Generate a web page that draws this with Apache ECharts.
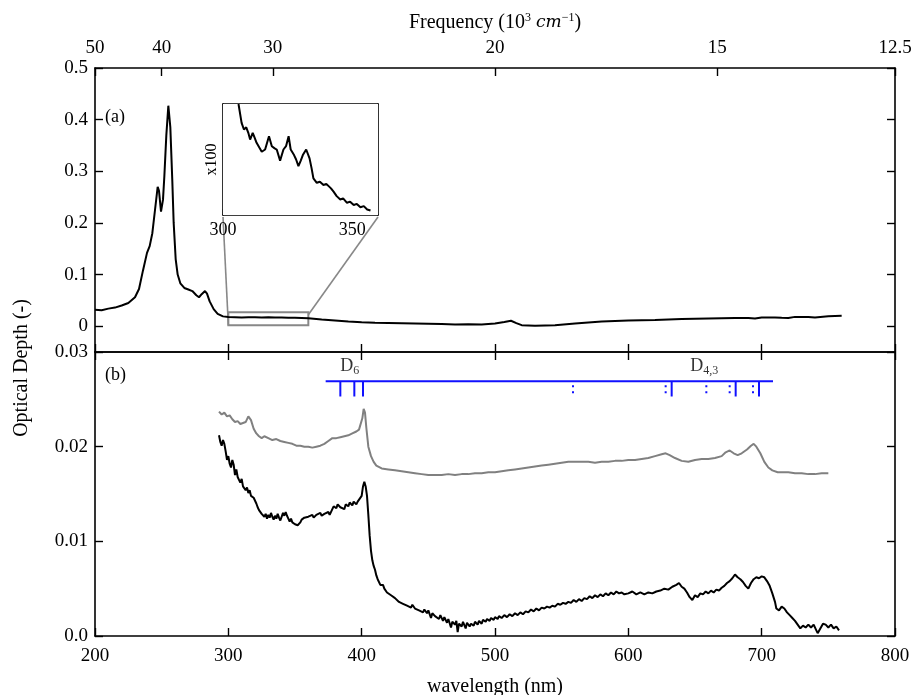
<!DOCTYPE html>
<html>
<head>
<meta charset="utf-8">
<script src="https://cdn.jsdelivr.net/npm/echarts@6/dist/echarts.min.js"></script>
<style>
  html, body { margin: 0; padding: 0; background: #fff; }
  #main { width: 911px; height: 695px; }
</style>
</head>
<body>
<div id="main"></div>
<script>
var FONT = 'Liberation Serif';

// panel (a): full spectrum
var aWave = [200, 205, 210, 215, 220, 225, 230, 233, 236, 239, 241, 243, 245, 247, 248, 249.5, 251, 252, 253.5, 255,
  256.5, 258, 259, 260.5, 262, 264, 267, 270, 273, 276, 278, 280, 282.5, 284, 286, 289, 292, 296, 300, 305,
  310, 315, 320, 325, 330, 335, 340, 345, 350, 355, 360, 370, 380, 390, 400, 410, 420, 430, 440, 450,
  460, 470, 480, 490, 500, 507, 512, 516, 520, 530, 545, 560, 580, 600, 620, 640, 660, 670, 680, 690,
  695, 700, 710, 715, 720, 725, 735, 740, 750, 760];
var aDepth = [0.032, 0.031, 0.034, 0.036, 0.040, 0.045, 0.056, 0.072, 0.108, 0.142, 0.155, 0.180, 0.225, 0.270, 0.262, 0.222, 0.245, 0.290, 0.370, 0.427,
  0.385, 0.280, 0.200, 0.130, 0.100, 0.083, 0.074, 0.071, 0.068, 0.060, 0.056, 0.062, 0.068, 0.063, 0.048, 0.033, 0.024, 0.019, 0.018, 0.0175,
  0.017, 0.0175, 0.0172, 0.0168, 0.0172, 0.0168, 0.017, 0.0165, 0.0162, 0.0158, 0.0152, 0.013, 0.011, 0.009, 0.0075, 0.0065, 0.006, 0.0055, 0.005, 0.0045,
  0.004, 0.0032, 0.0038, 0.0033, 0.005, 0.008, 0.0105, 0.006, 0.002, 0.001, 0.002, 0.005, 0.009, 0.011, 0.012, 0.014, 0.015, 0.0155, 0.016, 0.016,
  0.0148, 0.017, 0.017, 0.0162, 0.0158, 0.018, 0.018, 0.0168, 0.019, 0.020];

// inset (x100), relative units across the inset box
var insetWave = [306, 307.2, 308.1, 309, 309.8, 310.5, 311.5, 312.2, 313, 314, 315, 316.3, 317.8, 318.9, 320, 320.8, 322.1, 323.4, 324.4, 325.4,
  326.2, 327.5, 328.3, 329.2, 330.1, 330.9, 332.2, 333.5, 334.3, 335, 336.3, 337.5, 338.9, 340, 340.9, 341.8, 342.8, 344, 345.4, 346.5,
  348, 349.2, 350.6, 351.8, 353.2, 354.5, 355.8, 357.1];
var insetVal = [1.0, 0.83, 0.77, 0.79, 0.74, 0.68, 0.74, 0.70, 0.65, 0.61, 0.57, 0.59, 0.71, 0.62, 0.60, 0.59, 0.49, 0.59, 0.62, 0.71,
  0.59, 0.54, 0.50, 0.44, 0.49, 0.54, 0.59, 0.51, 0.42, 0.33, 0.29, 0.30, 0.27, 0.28, 0.26, 0.24, 0.21, 0.17, 0.14, 0.15,
  0.11, 0.12, 0.09, 0.10, 0.07, 0.08, 0.05, 0.04];

// panel (b): grey and black spectra
var greyWave = [293, 295, 297, 299, 301, 303, 305, 307, 309, 311, 313, 315, 316, 317, 319, 321, 323, 325, 327, 330,
  333, 336, 339, 342, 345, 348, 351, 354, 357, 360, 363, 366, 369, 372, 375, 378, 381, 384, 387, 390,
  393, 396, 398, 399.5, 400.5, 401.5, 402.5, 403.5, 405, 407, 409, 411, 415, 420, 425, 430, 435, 440, 445, 450,
  455, 460, 465, 470, 475, 480, 485, 490, 495, 500, 505, 510, 515, 520, 525, 530, 535, 540, 545, 550,
  555, 560, 565, 570, 575, 580, 585, 590, 595, 600, 605, 610, 615, 620, 625, 628, 631, 635, 640, 645,
  650, 655, 660, 665, 670, 673, 676, 679, 682, 685, 689, 692, 694, 696, 699, 702, 705, 708, 712, 716,
  720, 725, 730, 735, 740, 745, 750];
var greyDepth = [0.0237, 0.0234, 0.0236, 0.0232, 0.0233, 0.0229, 0.0226, 0.0227, 0.0224, 0.0225, 0.0226, 0.0232, 0.0233, 0.0228, 0.0219, 0.0214, 0.0211, 0.0209, 0.0211, 0.0209,
  0.0207, 0.0208, 0.0206, 0.0205, 0.0204, 0.0203, 0.0201, 0.0201, 0.0200, 0.0200, 0.0199, 0.0200, 0.0201, 0.0203, 0.0206, 0.0209, 0.0209, 0.0210, 0.0211, 0.0212,
  0.0214, 0.0216, 0.0218, 0.0220, 0.0230, 0.0240, 0.0236, 0.0220, 0.0200, 0.0190, 0.0184, 0.0180, 0.0177, 0.0176, 0.0175, 0.0174, 0.0173, 0.0172, 0.0171, 0.0170,
  0.0170, 0.0170, 0.0171, 0.0170, 0.0171, 0.0171, 0.0172, 0.0172, 0.0173, 0.0173, 0.0174, 0.0175, 0.0176, 0.0177, 0.0178, 0.0179, 0.0180, 0.0181, 0.0182, 0.0183,
  0.0184, 0.0184, 0.0184, 0.0184, 0.0183, 0.0184, 0.0184, 0.0185, 0.0185, 0.0186, 0.0186, 0.0187, 0.0188, 0.0190, 0.0192, 0.0193, 0.0191, 0.0188, 0.0185, 0.0184,
  0.0186, 0.0187, 0.0187, 0.0188, 0.0190, 0.0194, 0.0196, 0.0193, 0.0191, 0.0193, 0.0197, 0.0201, 0.0203, 0.0200, 0.0193, 0.0184, 0.0178, 0.0175, 0.0173, 0.0173,
  0.0173, 0.0172, 0.0172, 0.0171, 0.0171, 0.0172, 0.0172];

var blackWave = [293, 294, 295, 296, 297, 298, 299, 300, 301, 302, 303, 304, 305, 306, 307, 308, 309, 310, 311, 312,
  313, 314, 315, 316, 317, 318, 319, 320, 321, 322, 323, 324, 325, 326, 327, 328, 329, 330, 331, 332,
  333, 334, 335, 336, 337, 338, 339, 340, 341, 342, 343, 344, 345, 346, 347, 348, 349, 350, 352, 353,
  354, 355, 356, 357, 358, 360, 361, 363, 364, 366, 367, 369, 370, 372, 373, 375, 376, 378, 379, 381,
  382, 384, 385, 387, 388, 390, 391, 393, 394, 396, 397, 398.5, 400, 401, 402, 403, 404, 405, 406, 407,
  408, 409, 410, 411, 412, 413, 414, 415, 416, 417, 418, 419, 420, 422, 423, 425, 426, 428, 429, 431,
  432, 434, 435, 437, 438, 440, 441, 443, 444, 446, 447, 449, 450, 452, 453, 455, 456, 458, 459, 461,
  462, 464, 465, 467, 468, 470, 471, 472, 473, 475, 476, 478, 479, 481, 482, 484, 485, 487, 488, 490,
  491, 493, 494, 496, 497, 499, 500, 502, 503, 505, 507, 509, 511, 513, 515, 517, 519, 521, 523, 525,
  527, 529, 531, 533, 535, 537, 539, 541, 543, 545, 547, 549, 551, 553, 555, 557, 559, 561, 563, 565,
  567, 569, 571, 573, 575, 577, 579, 581, 583, 585, 587, 589, 591, 593, 595, 597, 600, 603, 606, 609,
  612, 615, 618, 621, 624, 627, 630, 633, 636, 638, 640, 642, 644, 646, 648, 650, 652, 654, 656, 658,
  660, 662, 664, 666, 668, 670, 672, 674, 676, 678, 680, 682, 684, 686, 688, 690, 692, 694, 696, 698,
  700, 702, 704, 706, 708, 710, 711, 713, 715, 717, 719, 721, 723, 725, 727, 729, 731, 733, 735, 737,
  739, 741, 742, 744, 746, 748, 750, 752, 754, 756, 758];
var blackDepth = [0.0212, 0.0205, 0.0201, 0.0207, 0.0203, 0.0195, 0.0186, 0.0190, 0.0182, 0.0178, 0.0186, 0.0181, 0.0170, 0.0176, 0.0168, 0.0165, 0.0162, 0.0166, 0.0158, 0.0160,
  0.0154, 0.0157, 0.0151, 0.0154, 0.0148, 0.0150, 0.0146, 0.0147, 0.0140, 0.0136, 0.0133, 0.0135, 0.0129, 0.0131, 0.0126, 0.0129, 0.0124, 0.0128, 0.0125, 0.0130,
  0.0126, 0.0123, 0.0127, 0.0124, 0.0129, 0.0125, 0.0122, 0.0126, 0.0130, 0.0127, 0.0131, 0.0127, 0.0124, 0.0121, 0.0124, 0.0120, 0.0122, 0.0118, 0.0117, 0.0116,
  0.0120, 0.0123, 0.0121, 0.0125, 0.0123, 0.0126, 0.0124, 0.0128, 0.0125, 0.0128, 0.0126, 0.0130, 0.0127, 0.0129, 0.0127, 0.0131, 0.0128, 0.0134, 0.0137, 0.0135,
  0.0139, 0.0136, 0.0138, 0.0134, 0.0139, 0.0137, 0.0141, 0.0138, 0.0142, 0.0139, 0.0142, 0.0141, 0.0148, 0.0158, 0.0163, 0.0158, 0.0148, 0.0128, 0.0106, 0.0090,
  0.0080, 0.0074, 0.0070, 0.0064, 0.0060, 0.0058, 0.0054, 0.0052, 0.0054, 0.0050, 0.0049, 0.0046, 0.0047, 0.0043, 0.0044, 0.0040, 0.0041, 0.0036, 0.0038, 0.0034,
  0.0036, 0.0032, 0.0034, 0.0030, 0.0033, 0.0029, 0.0031, 0.0027, 0.0029, 0.0025, 0.0028, 0.0024, 0.0027, 0.0019, 0.0024, 0.0021, 0.0023, 0.0018, 0.0022, 0.0016,
  0.0020, 0.0014, 0.0018, 0.0009, 0.0015, 0.0012, 0.0016, 0.0004, 0.0013, 0.0010, 0.0015, 0.0008, 0.0014, 0.0010, 0.0013, 0.0011, 0.0015, 0.0012, 0.0016, 0.0013,
  0.0017, 0.0015, 0.0018, 0.0016, 0.0019, 0.0017, 0.0020, 0.0018, 0.0021, 0.0019, 0.0022, 0.0020, 0.0023, 0.0021, 0.0024, 0.0022, 0.0025, 0.0023, 0.0026, 0.0025,
  0.0028, 0.0026, 0.0029, 0.0027, 0.0030, 0.0029, 0.0031, 0.0030, 0.0032, 0.0031, 0.0034, 0.0033, 0.0035, 0.0034, 0.0036, 0.0035, 0.0038, 0.0036, 0.0039, 0.0037,
  0.0040, 0.0039, 0.0042, 0.0040, 0.0043, 0.0041, 0.0044, 0.0042, 0.0045, 0.0043, 0.0046, 0.0044, 0.0047, 0.0045, 0.0046, 0.0044, 0.0045, 0.0047, 0.0044, 0.0046,
  0.0044, 0.0046, 0.0045, 0.0047, 0.0048, 0.0050, 0.0049, 0.0052, 0.0054, 0.0056, 0.0052, 0.0050, 0.0046, 0.0041, 0.0038, 0.0043, 0.0041, 0.0045, 0.0044, 0.0047,
  0.0045, 0.0048, 0.0046, 0.0049, 0.0048, 0.0051, 0.0053, 0.0056, 0.0058, 0.0061, 0.0065, 0.0062, 0.0060, 0.0057, 0.0053, 0.0050, 0.0056, 0.0060, 0.0062, 0.0061,
  0.0063, 0.0062, 0.0058, 0.0053, 0.0045, 0.0036, 0.0029, 0.0027, 0.0031, 0.0029, 0.0025, 0.0022, 0.0019, 0.0016, 0.0012, 0.0008, 0.0011, 0.0009, 0.0012, 0.0009,
  0.0012, 0.0006, 0.0003, 0.0008, 0.0013, 0.0012, 0.0009, 0.0012, 0.0008, 0.0010, 0.0006];

// axis ticks
var waveTicks = [200, 300, 400, 500, 600, 700, 800];
var freqTicks = [50, 40, 30, 20, 15, 12.5];
var yTicksA = [0, 0.1, 0.2, 0.3, 0.4, 0.5];
var yTicksB = [0, 0.01, 0.02, 0.03];
var insetTicks = [300, 350];

// zoomed region shown in the inset
var zoomWave = [300, 360];
var zoomDepth = [0.002, 0.027];

// line assignments
var levelSpan = [373, 708.5];
var levelDepth = 0.0269;
var tickLen = 0.0016;
var solidLines = [384, 394.5, 401, 632.5, 680.5, 698];
var dottedLines = [558.5, 628, 658.5, 676, 693.5];
var levelLabels = [['D', '6', 391], ['D', '4,3', 657]];
var labelDepth = 0.0285;

function zip(xs, ys) { return xs.map(function (x, i) { return [x, ys[i]]; }); }

var chart = echarts.init(document.getElementById('main'));

var txt = { fontFamily: FONT, color: '#000', fontSize: 19 };
var line = { onZero: false, lineStyle: { color: '#000', width: 1.6 } };

function xAx(grid, pos, extra) {
  return Object.assign({
    type: 'value', gridIndex: grid, position: pos, min: 200, max: 800,
    axisLine: line, splitLine: { show: false },
    axisTick: { inside: true, length: 8, customValues: waveTicks, lineStyle: { color: '#000', width: 1.4 } },
    axisLabel: { show: false, customValues: waveTicks }
  }, extra || {});
}
function yAx(grid, pos, min, max, ticks, extra) {
  return Object.assign({
    type: 'value', gridIndex: grid, position: pos, min: min, max: max,
    axisLine: line, splitLine: { show: false },
    axisTick: { inside: true, length: 8, customValues: ticks, lineStyle: { color: '#000', width: 1.4 } },
    axisLabel: { show: false, customValues: ticks }
  }, extra || {});
}

var blueMarks = solidLines.map(function (w) { return [w, levelDepth, 0]; })
  .concat(dottedLines.map(function (w) { return [w, levelDepth, 1]; }));

var freqPos = freqTicks.map(function (f) { return 1e4 / f; });

var option = {
  animation: false,
  backgroundColor: '#fff',
  textStyle: { fontFamily: FONT },
  grid: [
    { left: 95, right: 16, top: 68, height: 284, outerBoundsMode: 'none' },
    { left: 95, right: 16, top: 352, height: 284, outerBoundsMode: 'none' },
    { left: 223, top: 104, width: 155, height: 111, z: 5, show: true, backgroundColor: '#fff', borderWidth: 0, outerBoundsMode: 'none' }
  ],
  xAxis: [
    xAx(0, 'bottom'),
    xAx(0, 'top', {
      axisTick: { inside: true, length: 8, customValues: freqPos, lineStyle: { color: '#000', width: 1.4 } },
      axisLabel: Object.assign({ show: true, margin: 10, customValues: freqPos,
        formatter: function (v) { return String(Math.round(1e5 / v) / 10); } }, txt),
      name: 'Frequency (10{sup|3} {it|cm}{sup|−1})', nameLocation: 'middle', nameGap: 34,
      nameTextStyle: Object.assign({}, txt, { fontSize: 20, rich: {
        sup: { fontFamily: FONT, fontSize: 12, verticalAlign: 'top', padding: [0, 0, 10, 0] },
        it: { fontFamily: 'DejaVu Serif', fontStyle: 'italic', fontSize: 17 }
      } })
    }),
    xAx(1, 'bottom', {
      axisLabel: Object.assign({ show: true, margin: 11, customValues: waveTicks }, txt),
      name: 'wavelength (nm)', nameLocation: 'middle', nameGap: 41, nameTextStyle: Object.assign({}, txt, { fontSize: 20 })
    }),
    xAx(1, 'top'),
    {
      type: 'value', gridIndex: 2, position: 'bottom', min: 300, max: 360,
      axisLine: line, splitLine: { show: false },
      axisTick: { inside: true, length: 6, customValues: insetTicks, lineStyle: { color: '#000', width: 1.4 } },
      axisLabel: Object.assign({ show: true, margin: 6, customValues: insetTicks }, txt, { fontSize: 18 })
    },
    {
      type: 'value', gridIndex: 2, position: 'top', min: 300, max: 360,
      axisLine: line, splitLine: { show: false },
      axisTick: { inside: true, length: 6, customValues: insetTicks, lineStyle: { color: '#000', width: 1.4 } },
      axisLabel: { show: false }
    }
  ],
  yAxis: [
    yAx(0, 'left', -0.05, 0.5, yTicksA, {
      axisLabel: Object.assign({ show: true, margin: 7, customValues: yTicksA,
        formatter: function (v) { return v === 0 ? '0' : v.toFixed(1); } }, txt)
    }),
    yAx(0, 'right', -0.05, 0.5, yTicksA),
    yAx(1, 'left', 0, 0.03, yTicksB, {
      axisLabel: Object.assign({ show: true, margin: 7, customValues: yTicksB,
        formatter: function (v) { return v === 0 ? '0.0' : v.toFixed(2); } }, txt)
    }),
    yAx(1, 'right', 0, 0.03, yTicksB),
    {
      type: 'value', gridIndex: 2, position: 'left', min: 0, max: 1.0,
      axisLine: line, splitLine: { show: false }, axisTick: { show: false }, axisLabel: { show: false },
      name: 'x100', nameLocation: 'middle', nameRotate: 90, nameGap: 3,
      nameTextStyle: Object.assign({}, txt, { fontSize: 16 })
    },
    {
      type: 'value', gridIndex: 2, position: 'right', min: 0, max: 1.0,
      axisLine: line, splitLine: { show: false }, axisTick: { show: false }, axisLabel: { show: false }
    }
  ],
  series: [
    {
      type: 'line', xAxisIndex: 0, yAxisIndex: 0, data: zip(aWave, aDepth), showSymbol: false,
      lineStyle: { color: '#000', width: 2 },
      markArea: {
        silent: true,
        itemStyle: { color: 'rgba(0,0,0,0)', borderColor: '#888', borderWidth: 2 },
        data: [[{ xAxis: zoomWave[0], yAxis: zoomDepth[0] }, { xAxis: zoomWave[1], yAxis: zoomDepth[1] }]]
      }
    },
    {
      type: 'line', xAxisIndex: 4, yAxisIndex: 4, data: zip(insetWave, insetVal), showSymbol: false, z: 6,
      lineStyle: { color: '#000', width: 2 }
    },
    {
      type: 'line', xAxisIndex: 2, yAxisIndex: 2, data: zip(greyWave, greyDepth), showSymbol: false,
      lineStyle: { color: '#808080', width: 2 }
    },
    {
      type: 'line', xAxisIndex: 2, yAxisIndex: 2, data: zip(blackWave, blackDepth), showSymbol: false,
      lineStyle: { color: '#000', width: 2 }
    },
    {
      type: 'line', xAxisIndex: 2, yAxisIndex: 2, showSymbol: false,
      data: levelSpan.map(function (w) { return [w, levelDepth]; }),
      lineStyle: { color: '#1010ff', width: 2 }
    },
    {
      type: 'custom', xAxisIndex: 2, yAxisIndex: 2, data: blueMarks,
      renderItem: function (params, api) {
        var p0 = api.coord([api.value(0), api.value(1)]);
        var p1 = api.coord([api.value(0), api.value(1) - tickLen]);
        var dotted = api.value(2) === 1;
        return {
          type: 'line',
          shape: { x1: p0[0], y1: p0[1] + (dotted ? 4 : 0), x2: p1[0], y2: p1[1] },
          style: { stroke: '#1010ff', lineWidth: 2, lineDash: dotted ? [2, 4] : null }
        };
      }
    },
    {
      type: 'scatter', xAxisIndex: 2, yAxisIndex: 2, symbolSize: 0,
      data: levelLabels.map(function (d) { return { value: [d[2], labelDepth], name: d[0], sub: d[1] }; }),
      label: {
        show: true, position: 'inside',
        formatter: function (p) { return p.data.name + '{s|' + p.data.sub + '}'; },
        fontFamily: FONT, fontSize: 18, color: '#000',
        rich: { s: { fontFamily: FONT, fontSize: 12, color: '#000', padding: [10, 0, 0, 0] } }
      }
    }
  ],
  graphic: [
    { type: 'text', left: 105, top: 108, style: { text: '(a)', font: '18px "Liberation Serif"', fill: '#000' } },
    { type: 'text', left: 105, top: 366, style: { text: '(b)', font: '18px "Liberation Serif"', fill: '#000' } },
    { type: 'text', x: 22, y: 368, rotation: Math.PI / 2,
      style: { text: 'Optical Depth (-)', font: '20px "Liberation Serif"', fill: '#000', align: 'center', verticalAlign: 'middle' } }
  ]
};

chart.setOption(option);

// connector lines from the zoom box to the inset corners
var boxLow = chart.convertToPixel({ xAxisIndex: 0, yAxisIndex: 0 }, [zoomWave[0], zoomDepth[0]]);
var boxHigh = chart.convertToPixel({ xAxisIndex: 0, yAxisIndex: 0 }, [zoomWave[1], zoomDepth[1] - 0.005]);
var inL = chart.convertToPixel({ xAxisIndex: 4, yAxisIndex: 4 }, [300, 0]);
var inR = chart.convertToPixel({ xAxisIndex: 4, yAxisIndex: 4 }, [360, 0]);
chart.setOption({
  graphic: option.graphic.concat([
    { type: 'line', shape: { x1: boxLow[0], y1: boxLow[1], x2: inL[0], y2: inL[1] + 2 }, style: { stroke: '#888', lineWidth: 1.6 } },
    { type: 'line', shape: { x1: boxHigh[0], y1: boxHigh[1], x2: inR[0], y2: inR[1] + 2 }, style: { stroke: '#888', lineWidth: 1.6 } }
  ])
});
</script>
</body>
</html>
